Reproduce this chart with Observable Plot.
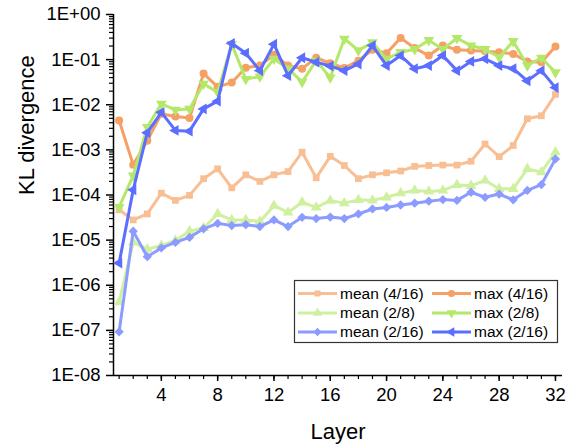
<!DOCTYPE html>
<html>
<head>
<meta charset="utf-8">
<script src="https://cdn.jsdelivr.net/npm/d3@7"></script>
<script src="https://cdn.jsdelivr.net/npm/@observablehq/plot@0.6"></script>
<style>
  html, body { margin: 0; padding: 0; background: #fff; }
  #wrap { position: relative; width: 572px; height: 445px; }
  #legend { position: absolute; left: 0; top: 0; pointer-events: none; }
</style>
</head>
<body>
<div id="wrap"></div>
<script>
const layers = [1,2,3,4,5,6,7,8,9,10,11,12,13,14,15,16,17,18,19,20,21,22,23,24,25,26,27,28,29,30,31,32];

const mean416 = [4.7e-5, 2.8e-5, 3.8e-5, 1.1e-4, 7.6e-5, 9.8e-5, 2.3e-4, 3.8e-4, 1.44e-4, 2.8e-4, 2.0e-4, 2.8e-4, 3.3e-4, 8.9e-4, 2.4e-4, 7.2e-4, 4.5e-4, 2.3e-4, 2.8e-4, 3.1e-4, 3.4e-4, 4.3e-4, 4.5e-4, 4.6e-4, 4.6e-4, 5.6e-4, 1.35e-3, 7.1e-4, 1.25e-3, 4.9e-3, 5.7e-3, 1.7e-2];
const max416  = [4.5e-3, 4.7e-4, 1.6e-3, 6.3e-3, 5.5e-3, 5.1e-3, 0.049, 0.025, 0.031, 0.066, 0.074, 0.128, 0.074, 0.063, 0.11, 0.083, 0.065, 0.095, 0.165, 0.139, 0.30, 0.18, 0.123, 0.205, 0.165, 0.16, 0.153, 0.146, 0.134, 0.091, 0.088, 0.195];
const mean28  = [4.2e-7, 8.9e-6, 6.3e-6, 7.6e-6, 9.8e-6, 1.58e-5, 1.86e-5, 3.8e-5, 2.8e-5, 2.8e-5, 2.6e-5, 5.8e-5, 4.1e-5, 6.9e-5, 5.3e-5, 7.5e-5, 6.6e-5, 7.8e-5, 7.6e-5, 8.9e-5, 1.1e-4, 1.26e-4, 1.2e-4, 1.26e-4, 1.67e-4, 1.6e-4, 2.1e-4, 1.37e-4, 1.37e-4, 3.8e-4, 3.2e-4, 8.9e-4];
const max28   = [5.4e-5, 2.7e-4, 3.2e-3, 0.0105, 7.7e-3, 8.1e-3, 0.029, 0.019, 0.22, 0.037, 0.042, 0.104, 0.063, 0.032, 0.095, 0.04, 0.29, 0.16, 0.24, 0.104, 0.146, 0.17, 0.27, 0.17, 0.30, 0.205, 0.17, 0.113, 0.256, 0.074, 0.11, 0.052];
const mean216 = [9.3e-8, 1.58e-5, 4.3e-6, 6.7e-6, 8.9e-6, 1.15e-5, 1.78e-5, 2.35e-5, 2.1e-5, 2.2e-5, 2.0e-5, 2.8e-5, 2.0e-5, 3.2e-5, 3.0e-5, 3.25e-5, 3.0e-5, 3.8e-5, 4.9e-5, 5.3e-5, 6.0e-5, 6.6e-5, 7.3e-5, 7.9e-5, 7.6e-5, 1.15e-4, 8.9e-5, 1.05e-4, 7.8e-5, 1.26e-4, 1.7e-4, 6.3e-4];
const max216  = [3.1e-6, 1.3e-4, 2.4e-3, 6.8e-3, 2.7e-3, 2.6e-3, 8.1e-3, 0.012, 0.23, 0.139, 0.057, 0.22, 0.044, 0.11, 0.088, 0.072, 0.057, 0.08, 0.205, 0.074, 0.123, 0.063, 0.074, 0.123, 0.057, 0.091, 0.104, 0.074, 0.063, 0.034, 0.057, 0.024];

const seriesNames = ["mean (4/16)", "max (4/16)", "mean (2/8)", "max (2/8)", "mean (2/16)", "max (2/16)"];
const seriesValues = [mean416, max416, mean28, max28, mean216, max216];
const seriesColors = ["#F8BE94", "#F5A064", "#CFF09F", "#B4E86A", "#8C9BFF", "#5B6EFF"];

const xMajorTicks = [4, 8, 12, 16, 20, 24, 28, 32];
const yMajorTicks = [1e-8, 1e-7, 1e-6, 1e-5, 1e-4, 1e-3, 1e-2, 1e-1, 1];
const yTickLabels = ["1E-08", "1E-07", "1E-06", "1E-05", "1E-04", "1E-03", "1E-02", "1E-01", "1E+00"];

// custom marker shapes
const s3 = Math.sqrt(3);
const triDown = {draw(ctx, size) {
  const y = -Math.sqrt(size / (s3 * 3));
  ctx.moveTo(0, -y * 2); ctx.lineTo(-s3 * y, y); ctx.lineTo(s3 * y, y); ctx.closePath();
}};
const triLeft = {draw(ctx, size) {
  const y = -Math.sqrt(size / (s3 * 3));
  ctx.moveTo(y * 2, 0); ctx.lineTo(-y, -s3 * y); ctx.lineTo(-y, s3 * y); ctx.closePath();
}};
const diamondSq = {draw(ctx, size) {
  const r = Math.sqrt(size / 2);
  ctx.moveTo(0, -r); ctx.lineTo(r, 0); ctx.lineTo(0, r); ctx.lineTo(-r, 0); ctx.closePath();
}};
const seriesSymbols = [d3.symbolSquare, d3.symbolCircle, d3.symbolTriangle, triDown, diamondSq, triLeft];
const seriesR = [3.8, 4.0, 4.0, 4.0, 3.7, 4.0];

const xDomain = [0.6, 32.5];
const yMinorTicks = [];
for (let i = 0; i < yMajorTicks.length - 1; i++) for (let k = 2; k <= 9; k++) yMinorTicks.push(yMajorTicks[i] * k);
const xMinorTicks = layers;

const tables = seriesValues.map((vals, i) => layers.map((l, j) => ({layer: l, value: vals[j], series: seriesNames[i]})));

const seriesMarks = [];
tables.forEach((t, i) => {
  seriesMarks.push(Plot.line(t, {x: "layer", y: "value", stroke: seriesColors[i], strokeWidth: 3, strokeLinejoin: "round"}));
  seriesMarks.push(Plot.dot(t, {x: "layer", y: "value", symbol: seriesSymbols[i], fill: seriesColors[i], stroke: "none", r: seriesR[i]}));
});

const chart = Plot.plot({
  width: 572, height: 445,
  marginTop: 14, marginLeft: 113, marginRight: 10, marginBottom: 70,
  style: {fontFamily: "'Liberation Sans', Arial, sans-serif", fontSize: "18.5px", color: "#000", background: "#fff", overflow: "visible"},
  x: {domain: xDomain},
  y: {type: "log", domain: [1e-8, 1]},
  marks: [
    Plot.axisY({ticks: yMinorTicks, tickSize: 4, tickFormat: () => "", label: null, strokeWidth: 1.2}),
    Plot.axisY({ticks: yMajorTicks, tickSize: 7, tickPadding: 6, tickFormat: d => yTickLabels[yMajorTicks.indexOf(d)], label: null, strokeWidth: 1.5, fontSize: 18.5}),
    Plot.axisX({ticks: xMinorTicks, tickSize: 4, tickFormat: () => "", label: null, strokeWidth: 1.2}),
    Plot.axisX({ticks: xMajorTicks, tickSize: 6, tickPadding: 6, label: null, strokeWidth: 1.5, fontSize: 18.5}),
    Plot.ruleX([xDomain[0]], {stroke: "#000", strokeWidth: 1.5}),
    Plot.ruleY([1e-8], {stroke: "#000", strokeWidth: 1.5}),
    Plot.text(["KL divergence"], {frameAnchor: "left", lineAnchor: "middle", dx: -87, rotate: -90, fontSize: 22, fill: "#000"}),
    Plot.text(["Layer"], {frameAnchor: "bottom", lineAnchor: "middle", dy: 56, fontSize: 22, fill: "#000"}),
    ...seriesMarks
  ]
});

const wrap = document.getElementById("wrap");
wrap.appendChild(chart);

// legend overlay
const lg = d3.select(wrap).append("svg").attr("id", "legend").attr("width", 572).attr("height", 445)
  .style("font-family", "'Liberation Sans', Arial, sans-serif");
lg.append("rect").attr("x", 294.5).attr("y", 280.5).attr("width", 263).attr("height", 62)
  .attr("fill", "#fff").attr("stroke", "#333").attr("stroke-width", 1.2);
const colX = [298, 432];
const rowY = [293.5, 313, 332];
seriesNames.forEach((name, i) => {
  const c = i % 2, r = Math.floor(i / 2);
  const x0 = colX[c], y0 = rowY[r];
  const g = lg.append("g");
  g.append("line").attr("x1", x0).attr("x2", x0 + 39).attr("y1", y0).attr("y2", y0)
    .attr("stroke", seriesColors[i]).attr("stroke-width", 3);
  g.append("path").attr("d", d3.symbol().type(seriesSymbols[i]).size(Math.PI * seriesR[i] * seriesR[i] * 0.8)())
    .attr("transform", `translate(${x0 + 19.5},${y0})`).attr("fill", seriesColors[i]);
  g.append("text").attr("x", x0 + 42).attr("y", y0).attr("dy", "0.35em")
    .attr("font-size", 15.5).attr("fill", "#000").text(name);
});
</script>
</body>
</html>
